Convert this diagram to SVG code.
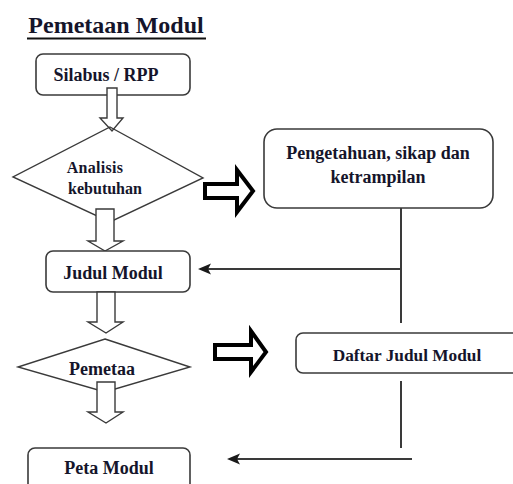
<svg xmlns="http://www.w3.org/2000/svg" width="513" height="484" viewBox="0 0 513 484">
<style>
.t{font-family:"Liberation Serif","Times New Roman",serif;font-weight:bold;fill:#15152b;text-anchor:middle}
.box{fill:#fff;stroke:#3a3a3a;stroke-width:1.6}
.dia{fill:none;stroke:#3a3a3a;stroke-width:1.4}
.ha{fill:#fff;stroke:#3a3a3a;stroke-width:1.4;stroke-linejoin:miter}
.ta{fill:#fff;stroke:#000;stroke-width:4;stroke-linejoin:miter}
.ln{fill:none;stroke:#3a3a3a;stroke-width:2}
.hd{fill:#1a1a1a}
</style>
<rect width="513" height="484" fill="#fff"/>
<g id="title">
<text class="t" x="116" y="33" font-size="24">Pemetaan Modul</text>
<rect x="27" y="37.5" width="179" height="2" fill="#111"/>
</g>
<g id="silabus">
<rect class="box" x="36" y="54" width="154" height="41" rx="7"/>
<text class="t" x="106" y="81" font-size="18">Silabus / RPP</text>
</g>
<g id="arrow1">
<path class="ha" d="M107,88 L117,88 L117,118 L123,118 L112,131 L100,118 L107,118 Z"/>
</g>
<g id="analisis">
<path class="dia" d="M110,127 L203,178 L110,222 L13,177 Z"/>
<text class="t" x="95" y="173" font-size="16" letter-spacing="0.3">Analisis</text>
<text class="t" x="105" y="194" font-size="16">kebutuhan</text>
</g>
<g id="arrow2">
<path class="ha" d="M96,209 L114,209 L114,241 L123,241 L105,251 L88,241 L96,241 Z"/>
</g>
<g id="judul">
<rect class="box" x="46" y="251" width="144" height="41" rx="7"/>
<text class="t" x="113" y="279" font-size="18">Judul Modul</text>
</g>
<g id="arrow3">
<path class="ha" d="M97,292 L115,292 L115,322 L123,322 L106,333 L88,322 L97,322 Z"/>
</g>
<g id="pemetaa">
<path class="dia" d="M105,339 L190,367 L105,392 L18,367 Z"/>
<text class="t" x="102" y="375" font-size="18">Pemetaa</text>
</g>
<g id="arrow4">
<path class="ha" d="M97,382 L115,382 L115,412 L123,412 L106,423 L88,412 L97,412 Z"/>
</g>
<g id="peta">
<rect class="box" x="28" y="448" width="162" height="50" rx="7"/>
<text class="t" x="109" y="474" font-size="18">Peta Modul</text>
</g>
<g id="pengetahuan">
<rect class="box" x="264" y="129" width="229" height="79" rx="13"/>
<text class="t" x="378" y="159" font-size="18">Pengetahuan, sikap dan</text>
<text class="t" x="378" y="183" font-size="18">ketrampilan</text>
</g>
<g id="daftar">
<rect class="box" x="296" y="333" width="230" height="40" rx="7"/>
<text class="t" x="407" y="361" font-size="17.3">Daftar Judul Modul</text>
</g>
<g id="connectors">
<path class="ta" d="M205,184 L237,184 L237,170 L253,191 L237,212 L237,198 L205,198 Z"/>
<path class="ta" d="M215,345 L251,345 L251,331 L266,352 L251,372 L251,359 L215,359 Z"/>
<path class="ln" d="M401,208 L401,323"/>
<path class="ln" d="M401,269 L206,269"/>
<path class="hd" d="M198,269 L211,263.5 L208,269 L211,274.5 Z"/>
<path class="ln" d="M401,381 L401,448"/>
<path class="ln" d="M412,459 L235,459"/>
<path class="hd" d="M227,459 L240,453.5 L237,459 L240,464.5 Z"/>
</g>
</svg>
